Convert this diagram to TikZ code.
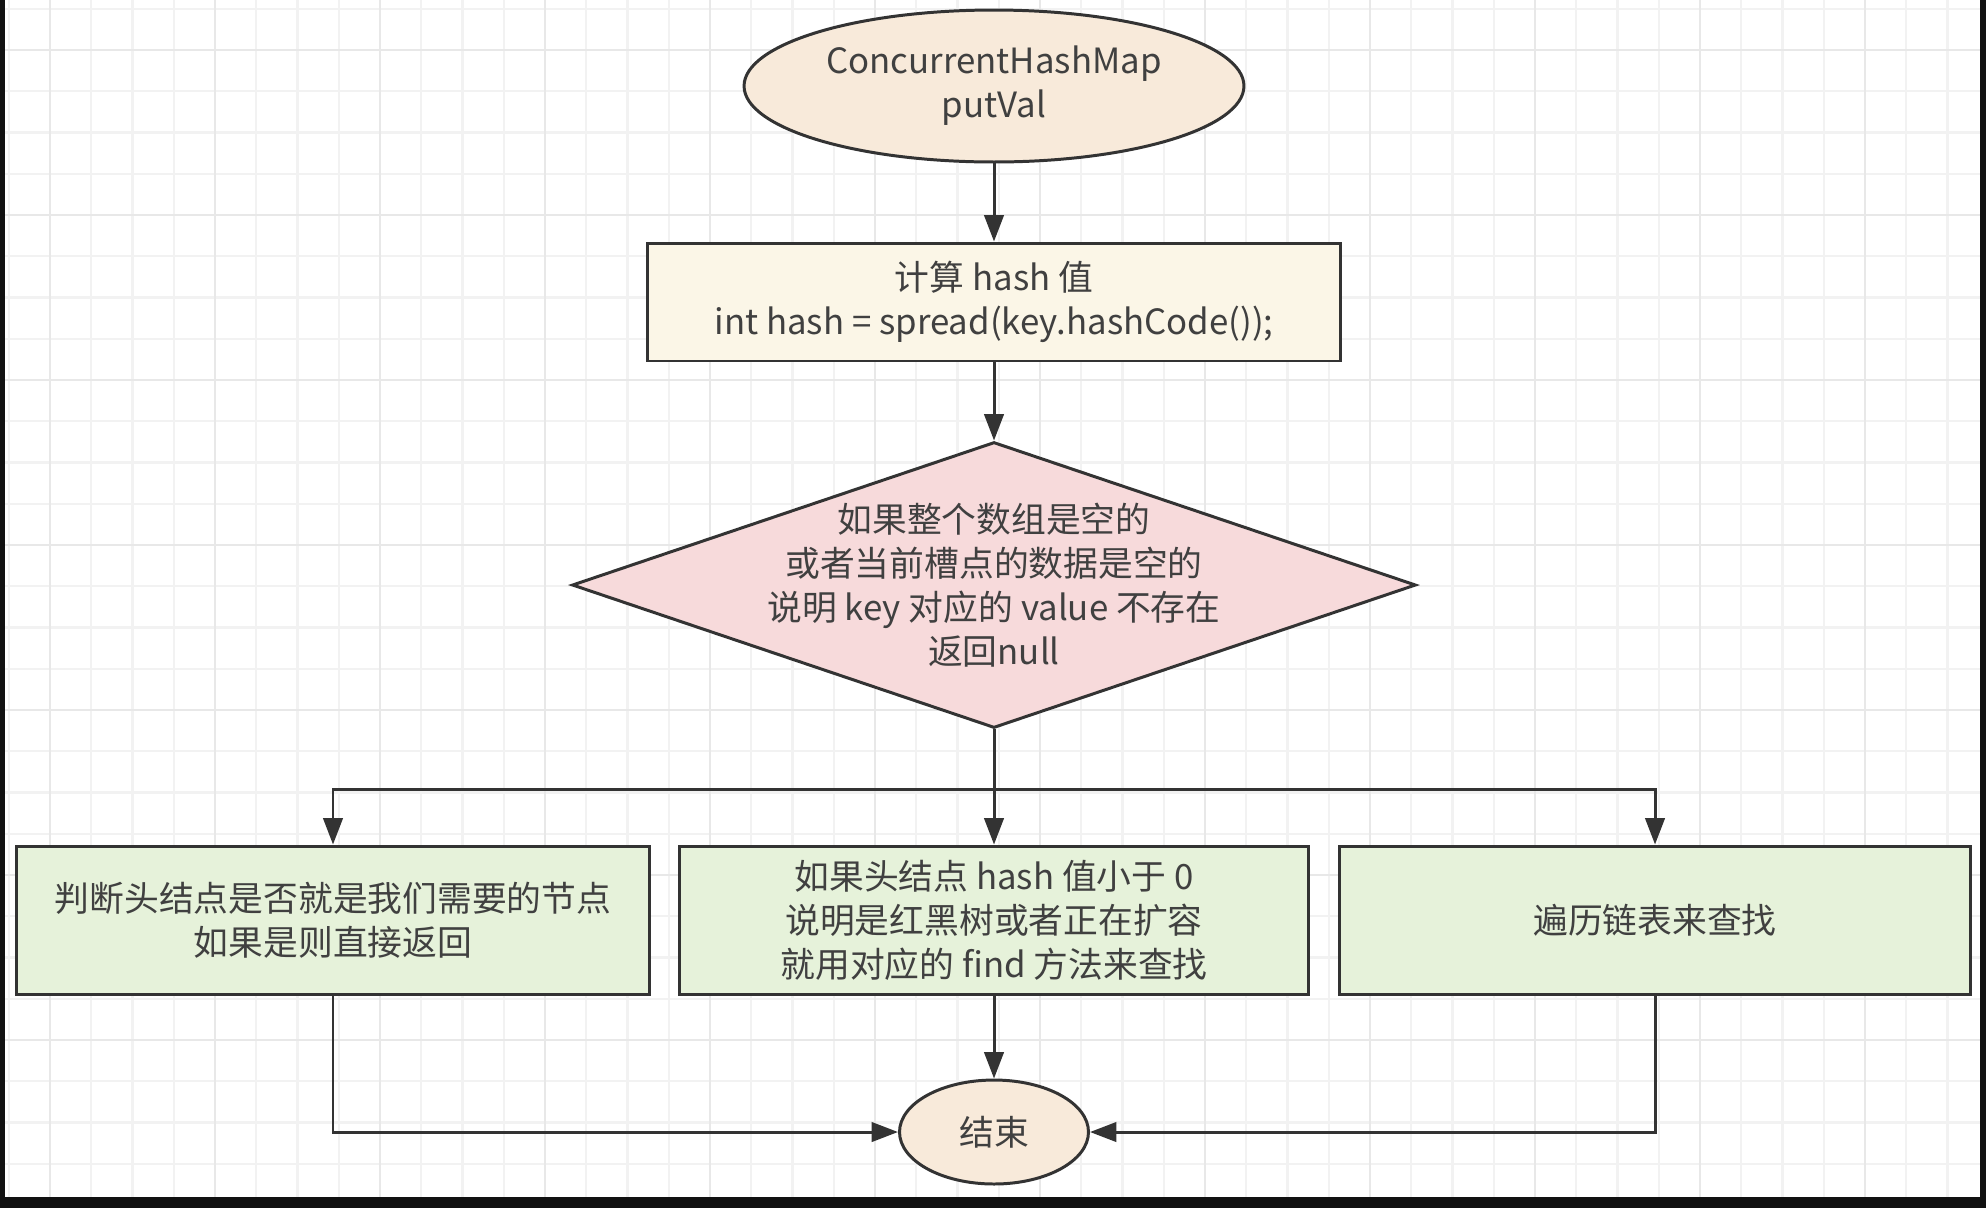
\documentclass[tikz,border=0pt]{standalone}
\usepackage{fontspec}
\setmainfont{Noto Sans CJK SC}
\usetikzlibrary{shapes.geometric,arrows.meta}

\definecolor{lineclr}{HTML}{333333}
\definecolor{textclr}{HTML}{404040}
\definecolor{startfill}{HTML}{F8EADA}
\definecolor{calcfill}{HTML}{FBF6E7}
\definecolor{checkfill}{HTML}{F7DADB}
\definecolor{leaffill}{HTML}{E6F2DA}
\definecolor{frameclr}{HTML}{111111}

\tikzset{
  base/.style={draw=lineclr, line width=1.7pt, text=textclr, align=center,
    inner sep=0pt, font=\fontsize{19.8}{25}\selectfont},
  terminal/.style={base, ellipse, fill=startfill},
  process/.style={base, rectangle, fill=calcfill},
  decision/.style={base, diamond, fill=checkfill},
  leaf/.style={base, rectangle, fill=leaffill},
  flow/.style={draw=lineclr, line width=1.7pt, -{Triangle[length=15pt,width=11pt]}},
  gridminor/.style={draw=black!5, line width=1.2pt},
  gridmajor/.style={draw=black!9, line width=1.2pt},
}

\begin{document}
\begin{tikzpicture}[x=0.02cm, y=-0.02cm]
  \useasboundingbox (0,0) rectangle (1986,1208);
  \fill[white] (0,0) rectangle (1986,1208);
  % background grid
  \foreach \i in {0,...,48} {
    \draw[gridminor] ({8.75+41.25*\i},0) -- ({8.75+41.25*\i},1208);
  }
  \foreach \i in {0,...,29} {
    \draw[gridminor] (0,{8.75+41.25*\i}) -- (1986,{8.75+41.25*\i});
  }
  \foreach \i in {0,...,11} {
    \draw[gridmajor] ({50+165*\i},0) -- ({50+165*\i},1208);
  }
  \foreach \i in {0,...,7} {
    \draw[gridmajor] (0,{50+165*\i}) -- (1986,{50+165*\i});
  }
  \fill[frameclr] (0,0) rectangle (5,1208);
  \fill[frameclr] (1980,0) rectangle (1986,1208);
  \fill[frameclr] (0,1197) rectangle (1986,1208);

  % nodes
  \node[terminal, minimum width=10cm, minimum height=3.04cm] (start) at (994,86)
    {ConcurrentHashMap\\putVal};
  \node[process, minimum width=13.88cm, minimum height=2.36cm] (calc) at (994,302)
    {计算 hash 值\\int hash = spread(key.hashCode());};
  \node[decision, minimum width=16.88cm, minimum height=5.72cm] (check) at (994,585) {};
  \node[text=textclr, align=center, font=\fontsize{19.8}{25}\selectfont] (checktext) at (check)
    {如果整个数组是空的\\或者当前槽点的数据是空的\\说明 key 对应的 value 不存在\\返回null};
  \node[leaf, minimum width=12.66cm, minimum height=2.96cm] (head) at (333,920)
    {判断头结点是否就是我们需要的节点\\如果是则直接返回};
  \node[leaf, minimum width=12.6cm, minimum height=2.96cm] (tree) at (994,920)
    {如果头结点 hash 值小于 0\\说明是红黑树或者正在扩容\\就用对应的 find 方法来查找};
  \node[leaf, minimum width=12.64cm, minimum height=2.96cm] (list) at (1655,920)
    {遍历链表来查找};
  \node[terminal, minimum width=3.78cm, minimum height=2.08cm] (end) at (994,1132) {结束};
  \coordinate (fork) at (994,789);

  % connectors
  \draw[flow] (start) -- (calc);
  \draw[flow] (calc) -- (check);
  \draw[flow] (check.south) -- (tree.north);
  \draw[flow] (check.south) -- (fork) -| (head.north);
  \draw[flow] (check.south) -- (fork) -| (list.north);
  \draw[flow] (tree.south) -- (end.north);
  \draw[flow] (head.south) |- (end.west);
  \draw[flow] (list.south) |- (end.east);
\end{tikzpicture}
\end{document}
